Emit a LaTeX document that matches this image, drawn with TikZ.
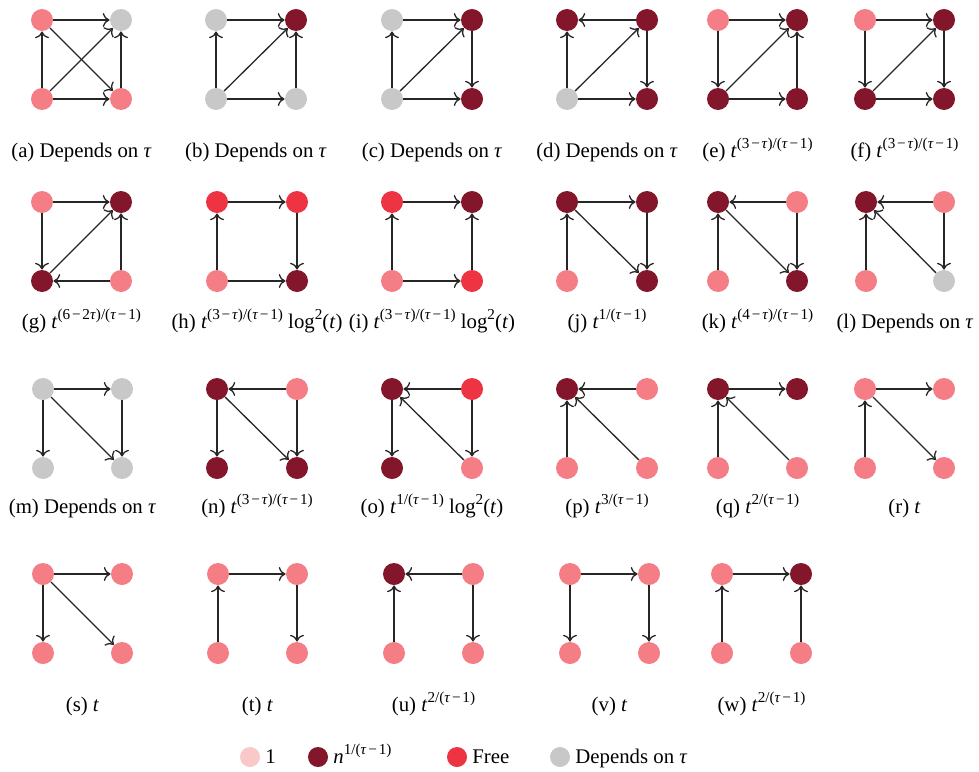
\documentclass[tikz,border=0pt]{standalone}
\usepackage{fontspec}
\setmainfont{Liberation Serif}
\usetikzlibrary{arrows.meta}
\definecolor{pk}{HTML}{F47D86}
\definecolor{dk}{HTML}{83162A}
\definecolor{rd}{HTML}{EE3443}
\definecolor{gy}{HTML}{C8C8C8}
\definecolor{lpk}{HTML}{F9C8C8}
\newcommand\tu{\textit{τ}}
\newcommand\ti{\textit{t}}
\newcommand\mn{\kern0.9pt−\kern0.9pt}
\newcommand\sps[1]{\raisebox{4.3pt}{\fontsize{7.6}{8}\selectfont #1}}
\newcommand\lgt{ log\sps{2}(\ti)}
\tikzset{
  dot/.style={circle, inner sep=0pt, minimum size=11pt, draw=none},
  edge/.style={line width=0.65pt, draw=black!85, -{To[length=3.4pt,width=7pt]}},
  lab/.style={anchor=base, inner sep=0pt, font=\fontsize{10.4}{12}\selectfont},
}
\newcommand\quadnodes[9]{%
  \node[dot, fill=#6] (#1TL) at (#2,#4) {};
  \node[dot, fill=#7] (#1TR) at (#3,#4) {};
  \node[dot, fill=#8] (#1BL) at (#2,#5) {};
  \node[dot, fill=#9] (#1BR) at (#3,#5) {};
}
\newcommand\edges[2]{\foreach \s/\t in {#2} {\draw[edge] (#1\s) -- (#1\t);}}
\begin{document}
\begin{tikzpicture}[x=0.5pt,y=-0.5pt]
\useasboundingbox (0,0) rectangle (979,771);
% Row 1
\quadnodes{a}{42}{121}{20}{99}{pk}{gy}{pk}{pk}
\edges{a}{TL/TR,BL/TL,BL/BR,BR/TR,TL/BR,BL/TR}
\node[lab] (alab) at (81.5,157) {(a) Depends on \tu};
\quadnodes{b}{216}{296}{20}{99}{gy}{dk}{gy}{gy}
\edges{b}{TL/TR,BL/TL,BL/BR,BR/TR,BL/TR}
\node[lab] (blab) at (256,157) {(b) Depends on \tu};
\quadnodes{c}{392}{472}{20}{99}{gy}{dk}{gy}{dk}
\edges{c}{TL/TR,BL/TL,BL/BR,TR/BR,BL/TR}
\node[lab] (clab) at (432,157) {(c) Depends on \tu};
\quadnodes{d}{567}{647}{20}{99}{dk}{dk}{gy}{dk}
\edges{d}{TR/TL,BL/TL,BL/BR,TR/BR,BL/TR}
\node[lab] (dlab) at (607,157) {(d) Depends on \tu};
\quadnodes{e}{718}{797}{20}{99}{pk}{dk}{dk}{dk}
\edges{e}{TL/TR,TL/BL,BL/BR,BR/TR,BL/TR}
\node[lab] (elab) at (757.5,157) {(e) \ti\sps{(3\mn\tu)/(\tu\mn1)}};
\quadnodes{f}{865}{944}{20}{99}{pk}{dk}{dk}{dk}
\edges{f}{TL/TR,TL/BL,BL/BR,TR/BR,BL/TR}
\node[lab] (flab) at (904.5,157) {(f) \ti\sps{(3\mn\tu)/(\tu\mn1)}};
% Row 2
\quadnodes{g}{42}{121}{202}{281}{pk}{dk}{dk}{pk}
\edges{g}{TL/TR,TL/BL,BR/BL,BR/TR,BL/TR}
\node[lab] (glab) at (81.5,328) {(g) \ti\sps{(6\mn2\tu)/(\tu\mn1)}};
\quadnodes{h}{217}{297}{202}{281}{rd}{rd}{pk}{dk}
\edges{h}{TL/TR,BL/TL,BL/BR,TR/BR}
\node[lab] (hlab) at (257,328) {(h) \ti\sps{(3\mn\tu)/(\tu\mn1)}\lgt};
\quadnodes{i}{392}{472}{202}{281}{rd}{dk}{pk}{rd}
\edges{i}{TL/TR,BL/TL,BL/BR,BR/TR}
\node[lab] (ilab) at (432,328) {(i) \ti\sps{(3\mn\tu)/(\tu\mn1)}\lgt};
\quadnodes{j}{567}{647}{202}{281}{dk}{dk}{pk}{dk}
\edges{j}{TL/TR,BL/TL,TR/BR,TL/BR}
\node[lab] (jlab) at (607,328) {(j) \ti\sps{1/(\tu\mn1)}};
\quadnodes{k}{718}{797}{202}{281}{dk}{pk}{pk}{dk}
\edges{k}{TR/TL,BL/TL,TR/BR,TL/BR}
\node[lab] (klab) at (757.5,328) {(k) \ti\sps{(4\mn\tu)/(\tu\mn1)}};
\quadnodes{l}{866}{944}{202}{281}{dk}{pk}{pk}{gy}
\edges{l}{TR/TL,BL/TL,TR/BR,BR/TL}
\node[lab] (llab) at (905,328) {(l) Depends on \tu};
% Row 3
\quadnodes{m}{43}{122}{389}{468}{gy}{gy}{gy}{gy}
\edges{m}{TL/TR,TL/BL,TR/BR,TL/BR}
\node[lab] (mlab) at (82.5,513) {(m) Depends on \tu};
\quadnodes{n}{217}{297}{389}{468}{dk}{pk}{dk}{dk}
\edges{n}{TR/TL,TL/BL,TR/BR,TL/BR}
\node[lab] (nlab) at (257,513) {(n) \ti\sps{(3\mn\tu)/(\tu\mn1)}};
\quadnodes{o}{392}{472}{389}{468}{dk}{rd}{dk}{pk}
\edges{o}{TR/TL,TL/BL,TR/BR,BR/TL}
\node[lab] (olab) at (432,513) {(o) \ti\sps{1/(\tu\mn1)}\lgt};
\quadnodes{p}{567}{647}{389}{468}{dk}{pk}{pk}{pk}
\edges{p}{TR/TL,BL/TL,BR/TL}
\node[lab] (plab) at (607,513) {(p) \ti\sps{3/(\tu\mn1)}};
\quadnodes{q}{718}{797}{389}{468}{dk}{dk}{pk}{pk}
\edges{q}{TL/TR,BL/TL,BR/TL}
\node[lab] (qlab) at (757.5,513) {(q) \ti\sps{2/(\tu\mn1)}};
\quadnodes{r}{865}{944}{389}{468}{pk}{pk}{pk}{pk}
\edges{r}{TL/TR,BL/TL,TL/BR}
\node[lab] (rlab) at (904.5,513) {(r) \ti};
% Row 4
\quadnodes{s}{43}{122}{574}{653}{pk}{pk}{pk}{pk}
\edges{s}{TL/TR,TL/BL,TL/BR}
\node[lab] (slab) at (82.5,711) {(s) \ti};
\quadnodes{t}{218}{297}{574}{653}{pk}{pk}{pk}{pk}
\edges{t}{TL/TR,BL/TL,TR/BR}
\node[lab] (tlab) at (257.5,711) {(t) \ti};
\quadnodes{u}{394}{473}{574}{653}{dk}{pk}{pk}{pk}
\edges{u}{TR/TL,BL/TL,TR/BR}
\node[lab] (ulab) at (433.5,711) {(u) \ti\sps{2/(\tu\mn1)}};
\quadnodes{v}{570}{649}{574}{653}{pk}{pk}{pk}{pk}
\edges{v}{TL/TR,TL/BL,TR/BR}
\node[lab] (vlab) at (609.5,711) {(v) \ti};
\quadnodes{w}{722}{801}{574}{653}{pk}{dk}{pk}{pk}
\edges{w}{TL/TR,BL/TL,BR/TR}
\node[lab] (wlab) at (761.5,711) {(w) \ti\sps{2/(\tu\mn1)}};
% Legend
\node[dot, fill=lpk, minimum size=10pt] (lg1) at (250,757) {};
\node[lab, anchor=base west] (lt1) at (265,763) {1};
\node[dot, fill=dk, minimum size=10pt] (lg2) at (318,757) {};
\node[lab, anchor=base west] (lt2) at (333,763) {\textit{n}\sps{1/(\tu\mn1)}};
\node[dot, fill=rd, minimum size=10pt] (lg3) at (457,757) {};
\node[lab, anchor=base west] (lt3) at (472,763) {Free};
\node[dot, fill=gy, minimum size=10pt] (lg4) at (560,757) {};
\node[lab, anchor=base west] (lt4) at (575,763) {Depends on \tu};
\end{tikzpicture}
\end{document}
